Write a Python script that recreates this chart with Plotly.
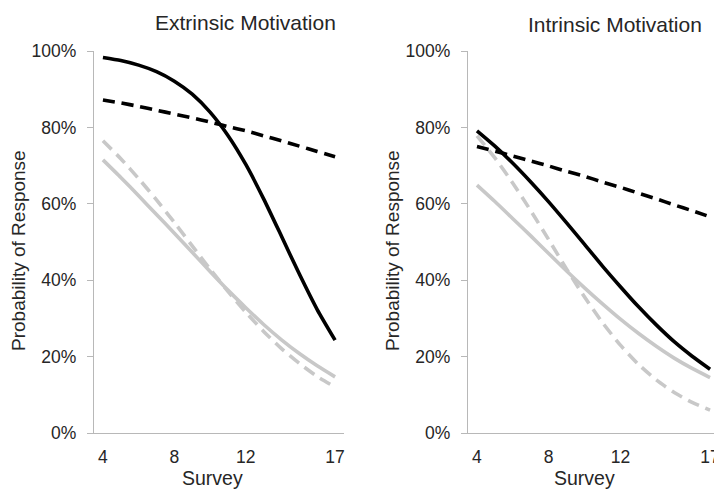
import plotly.graph_objects as go

# ---- data ----
surveys = [4, 5, 6, 7, 8, 9, 10, 11, 12, 13, 14, 15, 16, 17]
x_tick_vals = [4, 8, 12, 17]
y_tick_vals = [0, 20, 40, 60, 80, 100]
y_tick_text = ["0%", "20%", "40%", "60%", "80%", "100%"]

# Extrinsic Motivation panel (percent)
ext_black_solid = [98.3, 97.5, 96.3, 94.6, 92.1, 88.7, 84.0, 77.9, 70.3, 61.3, 51.5, 41.6, 32.3, 24.3]
ext_black_dash = [87.2, 86.4, 85.5, 84.5, 83.5, 82.5, 81.4, 80.2, 79.1, 77.8, 76.5, 75.1, 73.7, 72.3]
ext_gray_solid = [71.5, 66.9, 62.1, 57.2, 52.3, 47.3, 42.3, 37.4, 32.8, 28.4, 24.4, 20.8, 17.6, 14.7]
ext_gray_dash = [76.5, 71.8, 66.6, 61.0, 55.1, 49.0, 42.9, 37.1, 31.6, 26.6, 22.1, 18.2, 14.8, 12.0]

# Intrinsic Motivation panel (percent)
int_black_solid = [79.1, 75.1, 70.6, 65.7, 60.5, 55.0, 49.4, 43.7, 38.3, 33.1, 28.3, 23.9, 20.1, 16.7]
int_black_dash = [75.0, 73.8, 72.5, 71.2, 69.9, 68.5, 67.2, 65.7, 64.3, 62.8, 61.3, 59.7, 58.2, 56.6]
int_gray_solid = [64.9, 60.6, 56.1, 51.6, 47.0, 42.4, 38.0, 33.8, 29.8, 26.1, 22.7, 19.6, 16.9, 14.5]
int_gray_dash = [77.8, 72.0, 65.4, 58.2, 50.6, 42.9, 35.6, 28.9, 23.0, 18.0, 13.9, 10.6, 8.0, 6.0]

titles = ["Extrinsic Motivation", "Intrinsic Motivation"]
x_title = "Survey"
y_title = "Probability of Response"

# ---- styling ----
W, H = 714, 489
BLACK = "#000000"
GRAY = "#c8c8c8"
AXIS = "#b8b8b8"
TEXT = "#262626"
FONT = "Arial, Liberation Sans, sans-serif"
LW = 3.6
DASH = "12px,7px"

fig = go.Figure()

panels = [
    ("x", "y", [ext_gray_solid, ext_gray_dash, ext_black_dash, ext_black_solid]),
    ("x2", "y2", [int_gray_solid, int_gray_dash, int_black_dash, int_black_solid]),
]
styles = [(GRAY, "solid"), (GRAY, DASH), (BLACK, DASH), (BLACK, "solid")]

for xa, ya, series in panels:
    for vals, (col, dash) in zip(series, styles):
        fig.add_trace(go.Scatter(
            x=surveys, y=vals, xaxis=xa, yaxis=ya, mode="lines",
            line=dict(color=col, width=LW, dash=dash, shape="spline", smoothing=0.6),
            showlegend=False, hoverinfo="skip", cliponaxis=False,
        ))

def px_x(p):
    return p / W

def px_y(p):
    return 1 - p / H

y_dom = [px_y(433), px_y(51)]

common_x = dict(
    tickmode="array", tickvals=x_tick_vals, ticks="", showgrid=False, zeroline=False,
    showline=True, linecolor=AXIS, linewidth=1.4, automargin=False,
    ticklabeloverflow="allow",
    tickfont=dict(family=FONT, size=17.5, color=TEXT), ticklabelstandoff=8,
)
common_y = dict(
    range=[0, 100], tickmode="array", tickvals=y_tick_vals, ticktext=y_tick_text,
    ticks="outside", ticklen=6, tickcolor=AXIS, tickwidth=1.4, automargin=False,
    showgrid=False, zeroline=False, showline=True, linecolor=AXIS, linewidth=1.4,
    tickfont=dict(family=FONT, size=17.5, color=TEXT), ticklabelstandoff=7,
)

fig.update_layout(
    width=W, height=H,
    margin=dict(l=0, r=0, t=0, b=0, autoexpand=False),
    paper_bgcolor="white", plot_bgcolor="white",
    xaxis=dict(domain=[px_x(94), px_x(344)], range=[3.5, 17.5], anchor="y", **common_x),
    yaxis=dict(domain=y_dom, anchor="x", **common_y),
    xaxis2=dict(domain=[px_x(468), 1.0], range=[3.5, 17.22], anchor="y2", **common_x),
    yaxis2=dict(domain=y_dom, anchor="x2", **common_y),
)

ann = []
for (cx, cy), t in zip([(245, 23), (615, 24)], titles):
    ann.append(dict(text=t, x=px_x(cx), y=px_y(cy), xref="paper", yref="paper",
                    xanchor="center", yanchor="middle", showarrow=False,
                    font=dict(family=FONT, size=21, color=TEXT)))
for cx in (212, 584):
    ann.append(dict(text=x_title, x=px_x(cx), y=px_y(478), xref="paper", yref="paper",
                    xanchor="center", yanchor="middle", showarrow=False,
                    font=dict(family=FONT, size=19.5, color=TEXT)))
for cx in (19, 393):
    ann.append(dict(text=y_title, x=px_x(cx), y=px_y(251), xref="paper", yref="paper",
                    xanchor="center", yanchor="middle", showarrow=False, textangle=-90,
                    font=dict(family=FONT, size=19, color=TEXT)))
fig.update_layout(annotations=ann)

fig.write_html(
    "out.html",
    config={"displayModeBar": False},
    post_script="document.body.style.margin='0';document.body.style.overflow='hidden';",
)
